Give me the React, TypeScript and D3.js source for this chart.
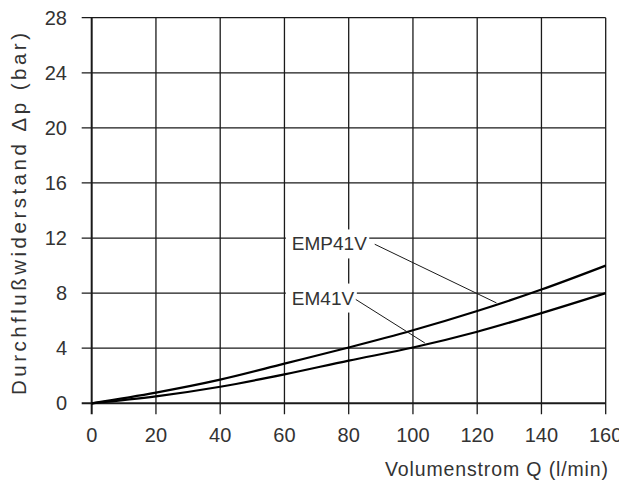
import React from "react";
import * as d3 from "d3";

const flowQ = [0, 20, 40, 60, 80, 100, 120, 140, 160];
const empValues = [0, 0.78, 1.72, 2.88, 4.05, 5.3, 6.7, 8.26, 10.0];
const emValues = [0, 0.5, 1.2, 2.1, 3.1, 4.05, 5.2, 6.55, 8.0];
const xTicks = [0, 20, 40, 60, 80, 100, 120, 140, 160];
const yTicks = [0, 4, 8, 12, 16, 20, 24, 28];

const seriesNames = ["EMP41V", "EM41V"];
const seriesValues = [empValues, emValues];
// label anchor (text start), leader start, leader end on curve — in data units
const labelQ = [62.3, 62.3];
const labelP = [11.1, 7.17];
const leaderFromQ = [88.1, 82.2];
const leaderFromP = [11.55, 7.54];
const leaderToQ = [126, 103.7];
const leaderToP = [7.29, 4.38];

const W = 619;
const H = 486;
const FONT = "'Liberation Sans', Arial, Helvetica, sans-serif";
const INK = "#1a1a1a";

export default function App() {
  const x = d3.scaleLinear().domain([0, 160]).range([91.7, 605.7]);
  const y = d3.scaleLinear().domain([0, 28]).range([403.3, 17.7]);

  const line = d3
    .line<number>()
    .x((_, i) => x(flowQ[i]))
    .y((v) => y(v))
    .curve(d3.curveMonotoneX);

  return (
    <svg
      width={W}
      height={H}
      style={{ position: "fixed", left: 0, top: 0, background: "#fff" }}
      fontFamily={FONT}
    >
      <rect width={W} height={H} fill="#fff" />
      {/* horizontal grid with left ticks */}
      {yTicks.map((t) => (
        <line
          key={"h" + t}
          x1={x(0) - 10}
          x2={x(160)}
          y1={y(t)}
          y2={y(t)}
          stroke={INK}
          strokeWidth={t === 0 ? 2 : 1.3}
        />
      ))}
      {/* vertical grid with bottom ticks */}
      {xTicks.map((t) => (
        <line
          key={"v" + t}
          x1={x(t)}
          x2={x(t)}
          y1={y(28)}
          y2={y(0) + 11}
          stroke={INK}
          strokeWidth={t === 0 ? 2 : 1.3}
        />
      ))}
      {/* label boxes knock out grid */}
      {seriesNames.map((n, i) => (
        <rect
          key={"b" + n}
          x={x(labelQ[i]) - 6}
          y={y(labelP[i]) - 21}
          width={n.length * 12.4 + 9}
          height={29}
          fill="#fff"
        />
      ))}
      {/* curves */}
      {seriesValues.map((vals, i) => (
        <path
          key={"c" + i}
          d={line(vals) || ""}
          fill="none"
          stroke="#000"
          strokeWidth={2.2}
        />
      ))}
      {/* leader lines */}
      {seriesNames.map((n, i) => (
        <line
          key={"l" + n}
          x1={x(leaderFromQ[i])}
          y1={y(leaderFromP[i])}
          x2={x(leaderToQ[i])}
          y2={y(leaderToP[i])}
          stroke={INK}
          strokeWidth={1}
        />
      ))}
      {seriesNames.map((n, i) => (
        <text
          key={"t" + n}
          x={x(labelQ[i])}
          y={y(labelP[i])}
          fontSize={19}
          fill="#333"
        >
          {n}
        </text>
      ))}
      {/* tick labels */}
      {xTicks.map((t) => (
        <text
          key={"xt" + t}
          x={x(t)}
          y={441.5}
          textAnchor="middle"
          fontSize={20}
          fill="#333"
        >
          {t}
        </text>
      ))}
      {yTicks.map((t) => (
        <text
          key={"yt" + t}
          x={67}
          y={y(t) + 7}
          textAnchor="end"
          fontSize={20}
          fill="#333"
        >
          {t}
        </text>
      ))}
      <text
        x={385}
        y={476}
        fontSize={19.5}
        fill="#333"
        textLength={223}
        lengthAdjust="spacing"
      >
        Volumenstrom Q (l/min)
      </text>
      <text
        transform={`translate(26, 395) rotate(-90)`}
        fontSize={20.5}
        fill="#333"
        textLength={362}
        lengthAdjust="spacing"
      >
        Durchflußwiderstand Δp (bar)
      </text>
    </svg>
  );
}
